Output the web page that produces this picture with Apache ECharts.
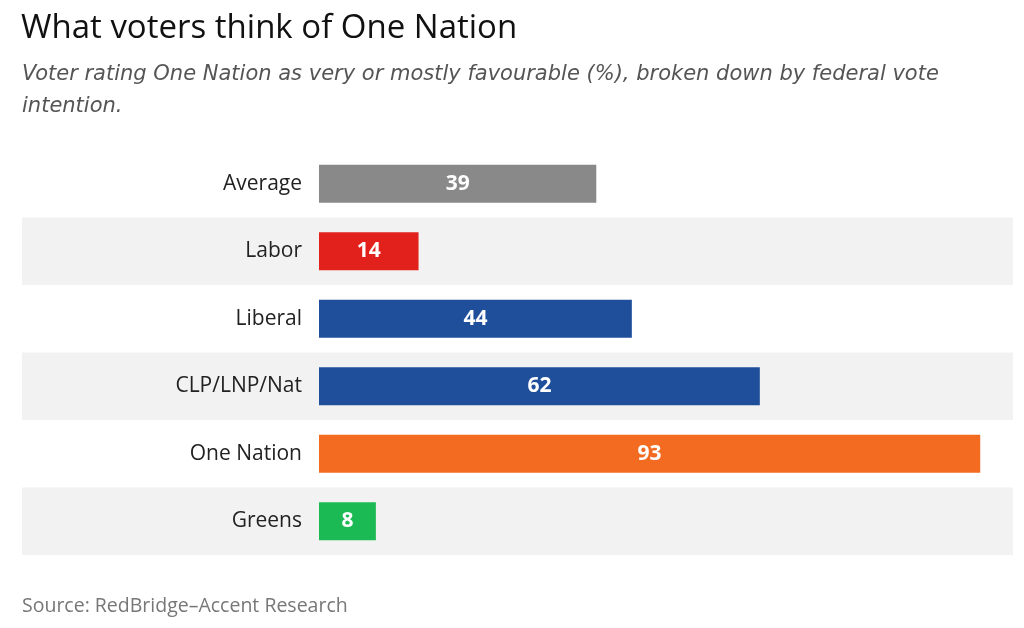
<!DOCTYPE html>
<html>
<head>
<meta charset="utf-8">
<script src="https://cdn.jsdelivr.net/npm/echarts@6/dist/echarts.min.js"></script>
<style>
  html, body { margin: 0; padding: 0; background: #fff; }
  #chart { width: 1024px; height: 628px; }
</style>
</head>
<body>
<div id="chart"></div>
<script>
// categories and values, top to bottom
var groups = ['Average', 'Labor', 'Liberal', 'CLP/LNP/Nat', 'One Nation', 'Greens'];
var favourable = [39, 14, 44, 62, 93, 8];
var barColours = ['#898989', '#e2211c', '#1f4e9b', '#1f4e9b', '#f26b21', '#1cba55'];

var FONT = '"Open Sans", sans-serif';
// px per percentage point (39 -> 277px)
var unit = 7.11;
var gridLeft = 22, gridRight = 1013, zeroX = 319;

var chart = echarts.init(document.getElementById('chart'));

var option = {
    animation: false,
    backgroundColor: '#fff',
    title: [{
        text: 'What voters think of One Nation',
        left: 16,
        top: 7,
        textStyle: { fontFamily: FONT, fontSize: 33, fontWeight: 'normal', color: '#111' }
    }, {
        text: 'Voter rating One Nation as very or mostly favourable (%), broken down by federal vote\nintention.',
        left: 17,
        top: 54,
        textStyle: { fontFamily: '"DejaVu Sans", sans-serif', fontSize: 21, fontStyle: 'italic', fontWeight: 'normal', color: '#555', lineHeight: 32 }
    }, {
        text: 'Source: RedBridge\u2013Accent Research',
        left: 17,
        top: 591,
        textStyle: { fontFamily: FONT, fontSize: 19.5, fontWeight: 'normal', color: '#777' }
    }],
    grid: {
        left: gridLeft,
        right: 1024 - gridRight,
        top: 150,
        bottom: 73
    },
    xAxis: {
        type: 'value',
        min: -(zeroX - gridLeft) / unit,
        max: (gridRight - zeroX) / unit,
        show: false
    },
    yAxis: {
        type: 'category',
        data: groups,
        inverse: true,
        offset: -(zeroX - gridLeft),
        axisLine: { show: false },
        axisTick: { show: false },
        axisLabel: { margin: 17, fontFamily: FONT, fontSize: 21, color: '#222' },
        splitArea: {
            show: true,
            areaStyle: { color: ['rgba(255,255,255,0)', '#f2f2f2'] }
        }
    },
    series: [{
        type: 'bar',
        data: favourable.map(function (v, i) {
            return { value: v, itemStyle: { color: barColours[i] } };
        }),
        barWidth: 38,
        label: {
            show: true,
            position: 'inside',
            color: '#fff',
            fontFamily: FONT,
            fontSize: 21,
            fontWeight: 'bold'
        }
    }]
};

chart.setOption(option);
</script>
</body>
</html>
